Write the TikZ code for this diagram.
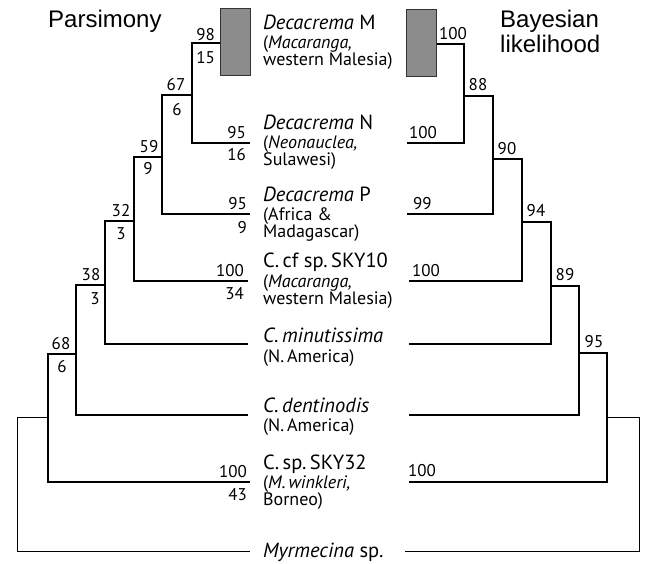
\documentclass[tikz,border=0pt]{standalone}
\usepackage{fontspec}
\setmainfont{PT Sans}
\newfontfamily\headfont{Liberation Sans}
\begin{document}
\begin{tikzpicture}[x=1pt,y=-1pt,
  br/.style={line width=1.8pt},
  rt/.style={line width=1pt},
  num/.style={font=\fontsize{17}{17}\selectfont, inner sep=0pt},
  tx/.style={font=\fontsize{20.5}{20.5}\selectfont, inner sep=0pt, anchor=base west},
  sub/.style={font=\fontsize{18}{18}\selectfont, inner sep=0pt, anchor=base west},
  hd/.style={font=\headfont\fontsize{24}{24}\selectfont, inner sep=0pt, anchor=base west},
  shadebox/.style={fill=black!45, draw=black!80, line width=1pt, inner sep=0pt,
    minimum width=30pt, minimum height=67pt, anchor=north west}]
\useasboundingbox (0,0) rectangle (645,563);

% headings
\node[hd] (hpars) at (48,27) {Parsimony};
\node[hd] (hbay) at (500,27) {Bayesian};
\node[hd] (hlik) at (500,52) {likelihood};

% shaded boxes
\node[shadebox] (boxL) at (220,8) {};
\node[shadebox] (boxR) at (406,9) {};

% left tree
\coordinate (L0t) at (17,417);  \coordinate (L0b) at (17,551);
\coordinate (L1t) at (48,354);  \coordinate (L1b) at (48,482);
\coordinate (L2t) at (76,285);  \coordinate (L2b) at (76,415);
\coordinate (L3t) at (105,221); \coordinate (L3b) at (105,344);
\coordinate (L4t) at (134,157); \coordinate (L4b) at (134,281);
\coordinate (L5t) at (162,95);  \coordinate (L5b) at (162,214);
\coordinate (L6t) at (192,43);  \coordinate (L6b) at (192,143);
\coordinate (lN) at (250,143);  \coordinate (lP) at (250,214);
\coordinate (lS10) at (248,281); \coordinate (lMin) at (248,344);
\coordinate (lDen) at (248,415); \coordinate (lS32) at (250,482);
\coordinate (lMyr) at (250,551);

\draw[br] (boxL.west |- L6t) -- (L6t) -- (L6b) -- (lN);
\draw[br] (L5t -| L6t) -- (L5t) -- (L5b) -- (lP);
\draw[br] (L4t -| L5t) -- (L4t) -- (L4b) -- (lS10);
\draw[br] (L3t -| L4t) -- (L3t) -- (L3b) -- (lMin);
\draw[br] (L2t -| L3t) -- (L2t) -- (L2b) -- (lDen);
\draw[br] (L1t -| L2t) -- (L1t) -- (L1b) -- (lS32);
\draw[rt] (L0t -| L1t) -- (L0t) -- (L0b) -- (lMyr);

% right tree
\coordinate (R0t) at (639,417); \coordinate (R0b) at (639,551);
\coordinate (R1t) at (607,353); \coordinate (R1b) at (607,482);
\coordinate (R2t) at (579,286); \coordinate (R2b) at (579,415);
\coordinate (R3t) at (551,222); \coordinate (R3b) at (551,344);
\coordinate (R4t) at (522,159); \coordinate (R4b) at (522,281);
\coordinate (R5t) at (493,96);  \coordinate (R5b) at (493,214);
\coordinate (R6t) at (464,44);  \coordinate (R6b) at (464,143);
\coordinate (rN) at (407,143);  \coordinate (rP) at (407,214);
\coordinate (rS10) at (409,281); \coordinate (rMin) at (409,344);
\coordinate (rDen) at (409,415); \coordinate (rS32) at (409,482);
\coordinate (rMyr) at (405,551);

\draw[br] (boxR.east |- R6t) -- (R6t) -- (R6b) -- (rN);
\draw[br] (R5t -| R6t) -- (R5t) -- (R5b) -- (rP);
\draw[br] (R4t -| R5t) -- (R4t) -- (R4b) -- (rS10);
\draw[br] (R3t -| R4t) -- (R3t) -- (R3b) -- (rMin);
\draw[br] (R2t -| R3t) -- (R2t) -- (R2b) -- (rDen);
\draw[br] (R1t -| R2t) -- (R1t) -- (R1b) -- (rS32);
\draw[rt] (R0t -| R1t) -- (R0t) -- (R0b) -- (rMyr);

% taxon labels
\node[tx] (tM1) at (263,29) {\itshape Decacrema\/\upshape\ M};
\node[sub] (tM2) at (263,48) {(\textit{Macaranga,}};
\node[sub] (tM3) at (263,65) {western Malesia)};
\node[tx] (tN1) at (263,129) {\itshape Decacrema\/\upshape\ N};
\node[sub] (tN2) at (263,148) {(\textit{Neonauclea,}};
\node[sub] (tN3) at (263,165) {Sulawesi)};
\node[tx] (tP1) at (263,201) {\itshape Decacrema\/\upshape\ P};
\node[sub] (tP2) at (263,220) {(Africa \&};
\node[sub] (tP3) at (263,237) {Madagascar)};
\node[tx] (tK1) at (263,267) {C.\,cf sp.\,SKY10};
\node[sub] (tK2) at (263,287) {(\textit{Macaranga,}};
\node[sub] (tK3) at (263,304) {western Malesia)};
\node[tx] (tMi1) at (263,342) {\itshape C.\,minutissima};
\node[sub] (tMi2) at (263,362) {(N.\,America)};
\node[tx] (tD1) at (263,412) {\itshape C.\,dentinodis};
\node[sub] (tD2) at (263,431) {(N.\,America)};
\node[tx] (tS1) at (263,469) {C.\,sp.\,SKY32};
\node[sub] (tS2) at (263,488) {(\textit{M.\,winkleri,}};
\node[sub] (tS3) at (263,505) {Borneo)};
\node[tx] (tMy) at (263,557) {\textit{Myrmecina} sp.};

% parsimony support values
\node[num, anchor=base east] (p98) at (215,40) {98};
\node[num, anchor=base east] (p15) at (215,63) {15};
\node[num, anchor=base] (p67) at (176,90) {67};
\node[num, anchor=base] (p6a) at (177,115) {6};
\node[num, anchor=base east] (p95a) at (246,138) {95};
\node[num, anchor=base east] (p16) at (246,160) {16};
\node[num, anchor=base] (p59) at (149,152) {59};
\node[num, anchor=base] (p9a) at (148,174) {9};
\node[num, anchor=base east] (p95b) at (247,209) {95};
\node[num, anchor=base east] (p9b) at (247,233) {9};
\node[num, anchor=base] (p32) at (121,216) {32};
\node[num, anchor=base] (p3a) at (121,239) {3};
\node[num, anchor=base east] (p100a) at (244,276) {100};
\node[num, anchor=base east] (p34) at (244,299) {34};
\node[num, anchor=base] (p38) at (91,280) {38};
\node[num, anchor=base] (p3b) at (95,304) {3};
\node[num, anchor=base] (p68) at (61,349) {68};
\node[num, anchor=base] (p6b) at (62,372) {6};
\node[num, anchor=base east] (p100b) at (247,477) {100};
\node[num, anchor=base east] (p43) at (247,500) {43};

% Bayesian support values
\node[num, anchor=base] (b100a) at (453,39) {100};
\node[num, anchor=base] (b88) at (478,90) {88};
\node[num, anchor=base west] (b100b) at (409,138) {100};
\node[num, anchor=base] (b90) at (507,154) {90};
\node[num, anchor=base west] (b99) at (413,209) {99};
\node[num, anchor=base] (b94) at (536,216) {94};
\node[num, anchor=base west] (b100c) at (412,276) {100};
\node[num, anchor=base] (b89) at (565,280) {89};
\node[num, anchor=base] (b95) at (594,347) {95};
\node[num, anchor=base west] (b100d) at (408,476) {100};
\end{tikzpicture}
\end{document}
